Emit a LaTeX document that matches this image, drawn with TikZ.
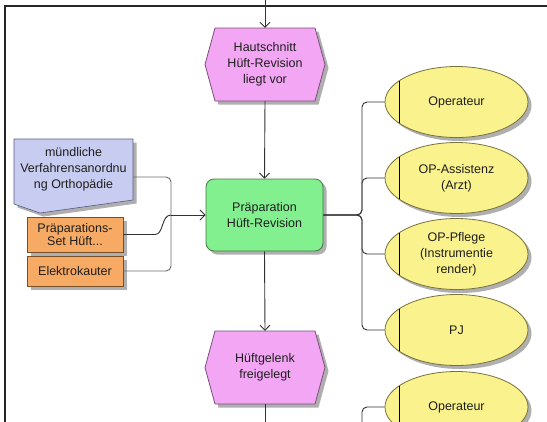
\documentclass[tikz,border=0pt]{standalone}
\usepackage{fontspec}
\setmainfont{Liberation Sans}
\usetikzlibrary{shapes.geometric,arrows.meta,calc,shadows}
\definecolor{hexfill}{RGB}{243,166,243}
\definecolor{hexline}{RGB}{120,80,120}
\definecolor{grfill}{RGB}{130,240,142}
\definecolor{grline}{RGB}{70,120,70}
\definecolor{yefill}{RGB}{250,242,140}
\definecolor{yeline}{RGB}{120,115,60}
\definecolor{orfill}{RGB}{246,170,100}
\definecolor{orline}{RGB}{120,80,40}
\definecolor{blfill}{RGB}{200,204,240}
\definecolor{blline}{RGB}{90,90,130}
\definecolor{shcol}{RGB}{175,175,175}
\definecolor{conncol}{RGB}{50,50,50}
\definecolor{connlight}{RGB}{105,105,105}
\definecolor{txt}{RGB}{30,30,30}
\tikzset{
  lbl/.style={align=center, text=txt, font=\fontsize{12.5}{16}\selectfont, inner sep=0pt},
  shad/.style={drop shadow={shadow xshift=3.5pt, shadow yshift=-3.5pt, fill=shcol, opacity=1}},
  evt/.style={lbl, minimum width=120pt, minimum height=73pt},
  func/.style={lbl, shad, rectangle, rounded corners=8pt, fill=grfill, draw=grline, line width=0.8pt, minimum width=117pt, minimum height=72pt},
  role/.style={lbl, shad, ellipse, fill=yefill, draw=yeline, line width=0.8pt, minimum width=143pt, minimum height=71pt, inner sep=0pt},
  res/.style={lbl, shad, rectangle, fill=orfill, draw=orline, line width=0.6pt, minimum width=96pt, font=\fontsize{12.5}{13.5}\selectfont},
  conn/.style={draw=conncol, line width=0.9pt},
  connl/.style={draw=connlight, line width=0.9pt},
  arr/.style={-{Straight Barb[length=5pt,width=10pt]}},
}
\newcommand\hexat[4]{%
  \begin{scope}[shift={(#2,#3)}]
    \fill[shcol, shift={(3.5,3.5)}] (-60,0) -- (-50,-36.5) -- (50,-36.5) -- (60,0) -- (50,36.5) -- (-50,36.5) -- cycle;
    \filldraw[fill=hexfill, draw=hexline, line width=0.8pt] (-60,0) -- (-50,-36.5) -- (50,-36.5) -- (60,0) -- (50,36.5) -- (-50,36.5) -- cycle;
  \end{scope}
  \node[evt] (#1) at (#2,#3) {#4};
}
\newcommand\roleline[1]{%
  \draw[black, line width=0.8pt] ($(#1.center)+(-57.5,-21)$) -- ($(#1.center)+(-57.5,21)$);
}
\begin{document}
\begin{tikzpicture}[x=1pt,y=-1pt]
\useasboundingbox (0,0) rectangle (547,421);
\clip (0,0) rectangle (547,421);
\fill[white] (0,0) rectangle (547,421);

% frame
\draw[line width=1.6pt, black!85] (5,440) -- (5,6) -- (560,6);

% events (hexagons)
\hexat{h1}{265}{64.5}{Hautschnitt\\Hüft-Revision\\liegt vor}
\hexat{h2}{265}{367.5}{Hüftgelenk\\freigelegt}

% function
\node[func] (g) at (264.5,215) {Präparation\\Hüft-Revision};

% information carrier (blue)
\fill[shcol, shift={(3.5,3.5)}] (14,139) -- (133,139) -- (133,200) -- (40,213) -- (14,204) -- cycle;
\filldraw[fill=blfill, draw=blline, line width=0.6pt] (14,139) -- (133,139) -- (133,200) -- (40,213) -- (14,204) -- cycle;
\node[lbl, minimum width=119pt, minimum height=61pt] (b) at (73.5,169.5) {mündliche\\Verfahrensanordnu\\ng Orthopädie};

% resources (orange)
\node[res, minimum height=35pt] (o1) at (75,234.5) {Präparations-\\Set Hüft...};
\node[res, minimum height=30pt] (o2) at (75,271) {Elektrokauter};

% roles (ellipses)
\node[role] (e1) at (456.5,102) {Operateur};
\node[role] (e2) at (456.5,178) {OP-Assistenz\\(Arzt)};
\node[role] (e3) at (456.5,254) {OP-Pflege\\(Instrumentie\\render)};
\node[role] (e4) at (456.5,330) {PJ};
\node[role] (e5) at (456.5,407) {Operateur};
\roleline{e1}\roleline{e2}\roleline{e3}\roleline{e4}\roleline{e5}

% helper coordinates
\coordinate (top) at (265,-5);
\coordinate (bot) at (265,440);
\coordinate (J) at (171,215);
\coordinate (bus) at (362,215);
\coordinate (bus2) at (362,440);

% control flow
\draw[conn, arr] (top) -- (h1.north);
\draw[conn, arr] (h1.south) -- (g.north);
\draw[conn, arr] (g.south) -- (h2.north);
\draw[conn] (h2.south) -- (bot);

% inputs
\draw[connl, rounded corners=5pt] ([yshift=-7.5pt]b.east) -| (J);
\draw[connl, rounded corners=5pt] (o2.east) -| (J);
\draw[conn] (o1.east) -- (155,234.5) .. controls (164,234.5) and (161,215) .. (J);
\draw[conn, arr] (J) -- (g.west);

% roles
\draw[conn, rounded corners=5pt] (g.east) -- (bus) |- (e1.west);
\draw[conn, rounded corners=5pt] (g.east) -- (bus) |- (e2.west);
\draw[conn, rounded corners=5pt] (g.east) -- (bus) |- (e3.west);
\draw[conn, rounded corners=5pt] (g.east) -- (bus) |- (e4.west);
\draw[conn, rounded corners=5pt] (e5.west) -| (bus2);
\end{tikzpicture}
\end{document}
